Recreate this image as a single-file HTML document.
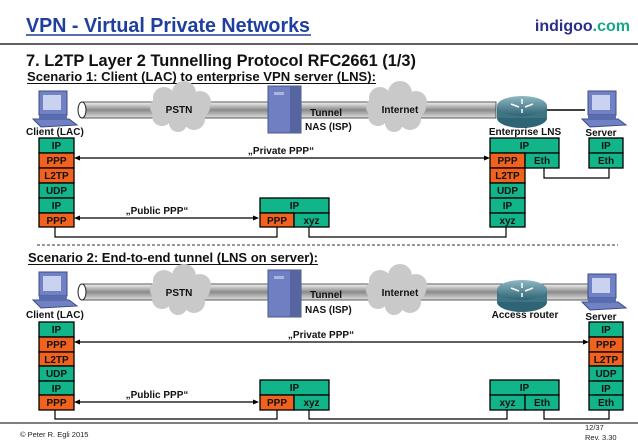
<!DOCTYPE html>
<html><head><meta charset="utf-8"><style>
body{margin:0;background:#fff;}
svg{display:block;font-family:"Liberation Sans",Arial,sans-serif;}
.b{font-size:10px;font-weight:bold;fill:#111;text-anchor:middle;}
.l{font-size:10px;font-weight:bold;fill:#111;}
</style></head><body>
<svg width="638" height="442" viewBox="0 0 638 442">
<defs>
<linearGradient id="pg" x1="0" y1="0" x2="0" y2="1"><stop offset="0" stop-color="#f4f4f4"/><stop offset="0.5" stop-color="#8a8a8a"/><stop offset="1" stop-color="#e0e0e0"/></linearGradient>
<linearGradient id="rg" x1="0" y1="0" x2="0" y2="1"><stop offset="0" stop-color="#8fb8c4"/><stop offset="1" stop-color="#2f6474"/></linearGradient>
<g id="cloud"><ellipse cx="0" cy="0" rx="30" ry="16" fill="#c9c9c9"/><circle cx="-16" cy="-9" r="11" fill="#c9c9c9"/><circle cx="4" cy="-14" r="12" fill="#c9c9c9"/><circle cx="20" cy="-5" r="11" fill="#c9c9c9"/><circle cx="-18" cy="9" r="10" fill="#c9c9c9"/><circle cx="14" cy="12" r="11" fill="#c9c9c9"/><circle cx="-2" cy="16" r="9" fill="#c9c9c9"/></g>
<g id="pc"><rect x="6" y="0" width="28" height="24" fill="#7082c4" stroke="#3c4a8a"/><rect x="10" y="4" width="18" height="15" fill="#c9d2ee"/><polygon points="0,28 36,28 44,34 8,36" fill="#7082c4" stroke="#3c4a8a"/><rect x="6" y="24" width="28" height="5" fill="#5a6cb0"/></g>
<g id="srv"><rect x="0" y="0" width="33" height="47" fill="#6f7fc2" stroke="#4a5694"/><rect x="6" y="6" width="10" height="3" fill="#aab4e0"/><rect x="22" y="0" width="11" height="47" fill="#56659f"/></g>
<g id="rt"><ellipse cx="25" cy="22" rx="25" ry="10" fill="#2f6474"/><rect x="0" y="10" width="50" height="12" fill="#3d7585"/><ellipse cx="25" cy="10" rx="25" ry="10" fill="url(#rg)"/><path d="M14 8 l8 3 M36 8 l-8 3 M25 3 v5 M25 17 v-4" stroke="#fff" stroke-width="1.5"/></g>
</defs>

<text x="26" y="32" font-size="20" font-weight="bold" fill="#1f3f9f" textLength="284" lengthAdjust="spacingAndGlyphs">VPN - Virtual Private Networks</text>
<line x1="26" y1="35" x2="311" y2="35" stroke="#1f3f9f" stroke-width="1.5"/>
<text x="630" y="31" font-size="16" font-weight="bold" fill="#2a2f8c" text-anchor="end">indigoo<tspan fill="#1aa58a">.com</tspan></text>
<line x1="0" y1="44" x2="638" y2="44" stroke="#000" stroke-width="1.2"/>
<text x="26" y="66" font-size="16.5" font-weight="bold" fill="#111" textLength="390" lengthAdjust="spacingAndGlyphs">7. L2TP Layer 2 Tunnelling Protocol RFC2661 (1/3)</text>
<text x="27" y="81" font-size="13" font-weight="bold" fill="#111" textLength="349" lengthAdjust="spacingAndGlyphs">Scenario 1: Client (LAC) to enterprise VPN server (LNS):</text>
<line x1="27" y1="83.5" x2="376" y2="83.5" stroke="#111"/>

<rect x="82" y="102" width="414" height="16" fill="url(#pg)" stroke="#333" stroke-width="0.8"/>
<ellipse cx="82" cy="110" rx="4" ry="8" fill="#fff" stroke="#222"/>
<use href="#cloud" x="180" y="107"/>
<text x="179" y="113" class="l" text-anchor="middle">PSTN</text>
<use href="#srv" x="268" y="86"/>
<text x="310" y="116" class="l">Tunnel</text>
<text x="305" y="130" class="l">NAS (ISP)</text>
<use href="#cloud" x="396" y="107"/>
<text x="400" y="113" class="l" text-anchor="middle">Internet</text>
<use href="#rt" x="497" y="96"/>
<line x1="547" y1="110" x2="585" y2="110" stroke="#000" stroke-width="1.5"/>
<use href="#pc" x="33" y="91"/>
<use href="#pc" x="582" y="91"/>
<text x="26" y="135" class="l" font-size="9.5">Client (LAC)</text>
<text x="525" y="135" class="l" text-anchor="middle" font-size="9.5">Enterprise LNS</text>
<text x="601" y="136" class="l" text-anchor="middle" font-size="9.5">Server</text>

<g stroke="#000" stroke-width="1.3">
<rect x="39" y="138" width="35" height="15" fill="#12b48a"/>
<rect x="39" y="153" width="35" height="15" fill="#f0621e"/>
<rect x="39" y="168" width="35" height="15" fill="#f0621e"/>
<rect x="39" y="183" width="35" height="15" fill="#12b48a"/>
<rect x="39" y="198" width="35" height="15" fill="#12b48a"/>
<rect x="39" y="213" width="35" height="14" fill="#f0621e"/>
<rect x="260" y="198" width="69" height="15" fill="#12b48a"/>
<rect x="260" y="213" width="34" height="14" fill="#f0621e"/>
<rect x="294" y="213" width="35" height="14" fill="#12b48a"/>
<rect x="490" y="138" width="69" height="15" fill="#12b48a"/>
<rect x="490" y="153" width="35" height="15" fill="#f0621e"/>
<rect x="525" y="153" width="34" height="15" fill="#12b48a"/>
<rect x="490" y="168" width="35" height="15" fill="#f0621e"/>
<rect x="490" y="183" width="35" height="15" fill="#12b48a"/>
<rect x="490" y="198" width="35" height="15" fill="#12b48a"/>
<rect x="490" y="213" width="35" height="14" fill="#12b48a"/>
<rect x="589" y="138" width="34" height="15" fill="#12b48a"/>
<rect x="589" y="153" width="34" height="15" fill="#12b48a"/>
</g>
<g>
<text x="56.5" y="149" class="b">IP</text><text x="56.5" y="164" class="b">PPP</text><text x="56.5" y="179" class="b">L2TP</text><text x="56.5" y="194" class="b">UDP</text><text x="56.5" y="209" class="b">IP</text><text x="56.5" y="224" class="b">PPP</text>
<text x="294.5" y="209" class="b">IP</text><text x="277" y="224" class="b">PPP</text><text x="311.5" y="224" class="b">xyz</text>
<text x="524.5" y="149" class="b">IP</text><text x="507.5" y="164" class="b">PPP</text><text x="542" y="164" class="b">Eth</text><text x="507.5" y="179" class="b">L2TP</text><text x="507.5" y="194" class="b">UDP</text><text x="507.5" y="209" class="b">IP</text><text x="507.5" y="224" class="b">xyz</text>
<text x="606" y="149" class="b">IP</text><text x="606" y="164" class="b">Eth</text>
</g>
<g stroke="#000" stroke-width="1.2" fill="none">
<line x1="77" y1="158" x2="487" y2="158"/>
<line x1="77" y1="218" x2="256" y2="218"/>
<polyline points="544,168 544,178 609,178 609,168"/>
<polyline points="55,227 55,237 277,237 277,227"/>
<polyline points="309,227 309,237 506,237 506,227"/>
</g>
<polygon points="74,158 80,155.5 80,160.5" fill="#000"/><polygon points="490,158 484,155.5 484,160.5" fill="#000"/>
<polygon points="74,218 80,215.5 80,220.5" fill="#000"/><polygon points="259,218 253,215.5 253,220.5" fill="#000"/>
<text x="281" y="154" class="l" text-anchor="middle">„Private PPP“</text>
<text x="157" y="214" class="l" text-anchor="middle">„Public PPP“</text>

<line x1="37" y1="245" x2="618" y2="245" stroke="#333" stroke-dasharray="3,2"/>

<text x="28" y="262" font-size="13" font-weight="bold" fill="#111" textLength="290" lengthAdjust="spacingAndGlyphs">Scenario 2: End-to-end tunnel (LNS on server):</text>
<line x1="28" y1="264.5" x2="318" y2="264.5" stroke="#111"/>
<rect x="82" y="284" width="506" height="16" fill="url(#pg)" stroke="#333" stroke-width="0.8"/>
<ellipse cx="82" cy="292" rx="4" ry="8" fill="#fff" stroke="#222"/>
<use href="#cloud" x="180" y="290"/>
<text x="179" y="296" class="l" text-anchor="middle">PSTN</text>
<use href="#srv" x="268" y="270"/>
<text x="310" y="298" class="l">Tunnel</text>
<text x="305" y="313" class="l">NAS (ISP)</text>
<use href="#cloud" x="396" y="290"/>
<text x="400" y="296" class="l" text-anchor="middle">Internet</text>
<use href="#rt" x="497" y="280"/>
<use href="#pc" x="33" y="272"/>
<use href="#pc" x="582" y="274"/>
<text x="26" y="318" class="l" font-size="9.5">Client (LAC)</text>
<text x="525" y="318" class="l" text-anchor="middle" font-size="9.5">Access router</text>
<text x="601" y="320" class="l" text-anchor="middle" font-size="9.5">Server</text>

<g stroke="#000" stroke-width="1.3">
<rect x="39" y="322" width="35" height="15" fill="#12b48a"/>
<rect x="39" y="337" width="35" height="15" fill="#f0621e"/>
<rect x="39" y="352" width="35" height="14" fill="#f0621e"/>
<rect x="39" y="366" width="35" height="15" fill="#12b48a"/>
<rect x="39" y="381" width="35" height="14" fill="#12b48a"/>
<rect x="39" y="395" width="35" height="15" fill="#f0621e"/>
<rect x="260" y="380" width="69" height="15" fill="#12b48a"/>
<rect x="260" y="395" width="34" height="15" fill="#f0621e"/>
<rect x="294" y="395" width="35" height="15" fill="#12b48a"/>
<rect x="490" y="380" width="69" height="15" fill="#12b48a"/>
<rect x="490" y="395" width="35" height="15" fill="#12b48a"/>
<rect x="525" y="395" width="34" height="15" fill="#12b48a"/>
<rect x="589" y="322" width="34" height="15" fill="#12b48a"/>
<rect x="589" y="337" width="34" height="15" fill="#f0621e"/>
<rect x="589" y="352" width="34" height="14" fill="#f0621e"/>
<rect x="589" y="366" width="34" height="15" fill="#12b48a"/>
<rect x="589" y="381" width="34" height="14" fill="#12b48a"/>
<rect x="589" y="395" width="34" height="15" fill="#12b48a"/>
</g>
<g>
<text x="56.5" y="333" class="b">IP</text><text x="56.5" y="348" class="b">PPP</text><text x="56.5" y="363" class="b">L2TP</text><text x="56.5" y="377" class="b">UDP</text><text x="56.5" y="392" class="b">IP</text><text x="56.5" y="406" class="b">PPP</text>
<text x="294.5" y="391" class="b">IP</text><text x="277" y="406" class="b">PPP</text><text x="311.5" y="406" class="b">xyz</text>
<text x="524.5" y="391" class="b">IP</text><text x="507.5" y="406" class="b">xyz</text><text x="542" y="406" class="b">Eth</text>
<text x="606" y="333" class="b">IP</text><text x="606" y="348" class="b">PPP</text><text x="606" y="363" class="b">L2TP</text><text x="606" y="377" class="b">UDP</text><text x="606" y="392" class="b">IP</text><text x="606" y="406" class="b">Eth</text>
</g>
<g stroke="#000" stroke-width="1.2" fill="none">
<line x1="77" y1="342" x2="586" y2="342"/>
<line x1="77" y1="402" x2="256" y2="402"/>
<polyline points="55,410 55,419 277,419 277,410"/>
<polyline points="309,410 309,419 507,419 507,410"/>
<polyline points="544,410 544,419 609,419 609,410"/>
</g>
<polygon points="74,342 80,339.5 80,344.5" fill="#000"/><polygon points="589,342 583,339.5 583,344.5" fill="#000"/>
<polygon points="74,402 80,399.5 80,404.5" fill="#000"/><polygon points="259,402 253,399.5 253,404.5" fill="#000"/>
<text x="321" y="338" class="l" text-anchor="middle">„Private PPP“</text>
<text x="157" y="398" class="l" text-anchor="middle">„Public PPP“</text>

<line x1="0" y1="423" x2="638" y2="423" stroke="#000" stroke-width="1"/>
<text x="20" y="437" font-size="7.5" fill="#222">© Peter R. Egli 2015</text>
<text x="585" y="430" font-size="7.5" fill="#222">12/37</text>
<text x="585" y="440" font-size="7.5" fill="#222">Rev. 3.30</text>
</svg>
</body></html>
